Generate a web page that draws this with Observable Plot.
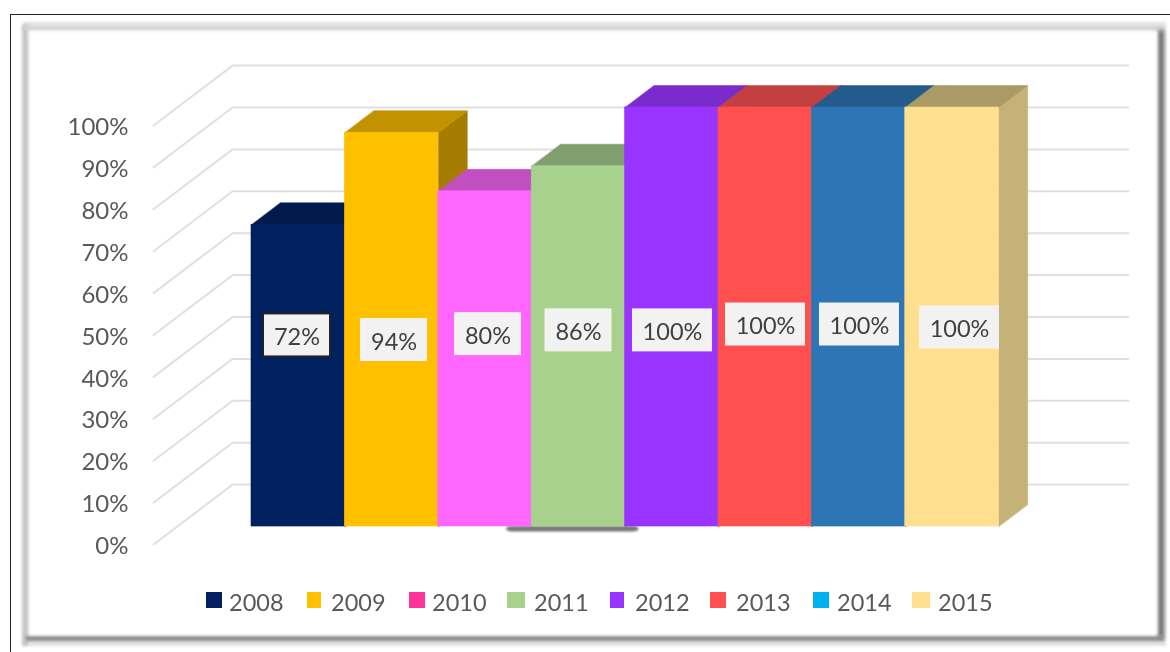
<!DOCTYPE html>
<html><head><meta charset="utf-8">
<script src="https://cdn.jsdelivr.net/npm/d3@7"></script>
<script src="https://cdn.jsdelivr.net/npm/@observablehq/plot@0.6"></script>
<style>
html,body{margin:0;padding:0;background:#fff;width:1170px;height:652px;overflow:hidden}
#outer{position:absolute;left:10px;top:14px;width:1170px;height:660px;border:1.5px solid #222;box-sizing:border-box}
.b{position:absolute}
#chart{position:absolute;left:0;top:0;filter:blur(0.45px)}
#legend{position:absolute;left:0;top:587px;width:1170px;height:30px;font:23.5px Lato,sans-serif;color:#595959;filter:blur(0.35px)}
#legend span{position:absolute;top:0;line-height:30px}
#legend i{position:absolute;display:block}
</style></head><body>
<div id="outer"></div>
<div class="b" style="left:24px;top:22px;width:1142px;height:624px;background:#e4e4e4;filter:blur(1px)"></div>
<div class="b" style="left:22px;top:24px;width:6px;height:622px;background:#c6c6c6;filter:blur(1.5px)"></div>
<div class="b" style="left:24px;top:26px;width:1140px;height:4px;background:#d6d6d6;filter:blur(1.2px)"></div>
<div class="b" style="left:1158px;top:30px;width:6px;height:608px;background:#6a6a6a;filter:blur(2px)"></div>
<div class="b" style="left:26px;top:636px;width:1138px;height:5px;background:#8c8c8c;filter:blur(1.8px)"></div>
<div class="b" style="left:29px;top:31px;width:1128px;height:604px;background:#fff;filter:blur(1.5px)"></div>
<div id="chart"></div>
<div id="legend"></div>
<script>
const years = ["2008","2009","2010","2011","2012","2013","2014","2015"];
const values = [72,94,80,86,100,100,100,100];
const axisTicks = [0,10,20,30,40,50,60,70,80,90,100];
const frontColors = ["#00205f","#ffc000","#ff66ff","#a9d18e","#9933ff","#ff5050","#2e75b6","#ffe08f"];
const topColors   = ["#001a4d","#c29200","#c04fc0","#7f9f6c","#7a2bcc","#c44040","#255a8c","#a99a66"];
const sideColors  = ["#001740","#a67c00","#b040b0","#6f8f5f","#6a22b0","#b03838","#1f4d78","#c4b276"];
const legendColors = ["#00205f","#ffc000","#ff3399","#a9d18e","#9933ff","#ff5050","#00b0f0","#ffe08f"];
// where each value label sits on the chart (category units, percent)
const labelU = [0.741,1.78,2.786,3.755,4.761,5.757,6.763,7.834];
const labelV = [49.9,48.8,50.2,51.1,51.1,52.5,52.5,51.8];

// oblique projection: z=0 is the axis plane, z=1 the back wall
const ux = 0.846, vz = 14.3, front = 0.3, back = 0.667;
const P = (u,v,z) => ({x:u + z*ux, y:v + z*vz});
const pxU = 93.4, pxV = 4.19, originX = 227.3, originY = 544, H = 585, mL = 135;

const wallLeft = -0.795, wallRight = 8.797;
const grid = axisTicks.flatMap(t => [
  {t, ...P(wallLeft,t,0)}, {t, ...P(wallLeft,t,1)}, {t, ...P(wallRight,t,1)}
]);

const poly = (pts, fill) => Plot.line(pts, {x:"x", y:"y", fill, stroke:fill, strokeWidth:0.5, curve:"linear-closed"});
const barMarks = years.flatMap((yr,i) => {
  const v = values[i], u0 = i, u1 = i + 1;
  const side = [P(u1,0,front),P(u1,v,front),P(u1,v,back),P(u1,0,back)];
  const top = [P(u0,v,front),P(u1,v,front),P(u1,v,back),P(u0,v,back)];
  const f = P(u0,0,front), g = P(u1,v,front);
  return [
    poly(side, sideColors[i]),
    poly(top, topColors[i]),
    Plot.rect([{x1:f.x,x2:g.x,y1:f.y,y2:g.y}], {x1:"x1",x2:"x2",y1:"y1",y2:"y2",fill:frontColors[i],stroke:frontColors[i],strokeWidth:0.6})
  ];
});

const labels = years.map((y,i) => {
  const halfW = (values[i] === 100 ? 40 : 33.5)/pxU, halfH = 21.5/pxV;
  return {text:values[i]+"%", u:labelU[i], v:labelV[i], x1:labelU[i]-halfW, x2:labelU[i]+halfW, y1:labelV[i]-halfH, y2:labelV[i]+halfH, boxed:i===0};
});

const shadowF = P(2.73,-1.3,front), shadowG = P(4.15,0,front);

const chart = Plot.plot({
  width:1170, height:H,
  marginLeft:mL, marginRight:0, marginTop:0, marginBottom:0,
  style:{background:"transparent", fontFamily:"Lato,sans-serif"},
  x:{domain:[(mL-originX)/pxU,(1170-originX)/pxU], range:[mL,1170], axis:null},
  y:{domain:[originY/pxV,(originY-H)/pxV], range:[0,H], axis:null},
  marks:[
    Plot.line(grid, {x:"x", y:"y", z:"t", stroke:"#e0e0e0", strokeWidth:2}),
    Plot.axisY(axisTicks, {anchor:"left", tickSize:0, tickPadding:7, dy:2, tickFormat:d=>d+"%", fontSize:24, color:"#595959", fill:"#595959", label:null}),
    Plot.rect([{x1:shadowF.x,x2:shadowG.x,y1:shadowF.y,y2:shadowG.y}], {x1:"x1",x2:"x2",y1:"y1",y2:"y2",fill:"#777",rx:6,imageFilter:"blur(1px)"}),
    ...barMarks,
    Plot.rect(labels, {x1:"x1",x2:"x2",y1:"y1",y2:"y2",fill:"#f2f2f2",stroke:d=>d.boxed?"#222":"none",strokeWidth:2}),
    Plot.text(labels, {x:"u",y:"v",text:"text",fontSize:23.5,fill:"#404040",dy:2})
  ]
});
document.getElementById("chart").append(chart);

// legend
const legendSwatchX = [206,307,409,507,610,710,813,912];
const legendTextX = [229,331,432,534,635,736,837,938];
const leg = document.getElementById("legend");
years.forEach((y,i)=>{
  const s=document.createElement("i");
  s.style.cssText=`left:${legendSwatchX[i]}px;top:5px;width:${[16,14,16,18,14,16,16,18][i]}px;height:16px;background:${legendColors[i]}`;
  leg.append(s);
  const t=document.createElement("span");
  t.textContent=y;t.style.left=legendTextX[i]+"px";
  leg.append(t);
});
</script>
</body></html>
